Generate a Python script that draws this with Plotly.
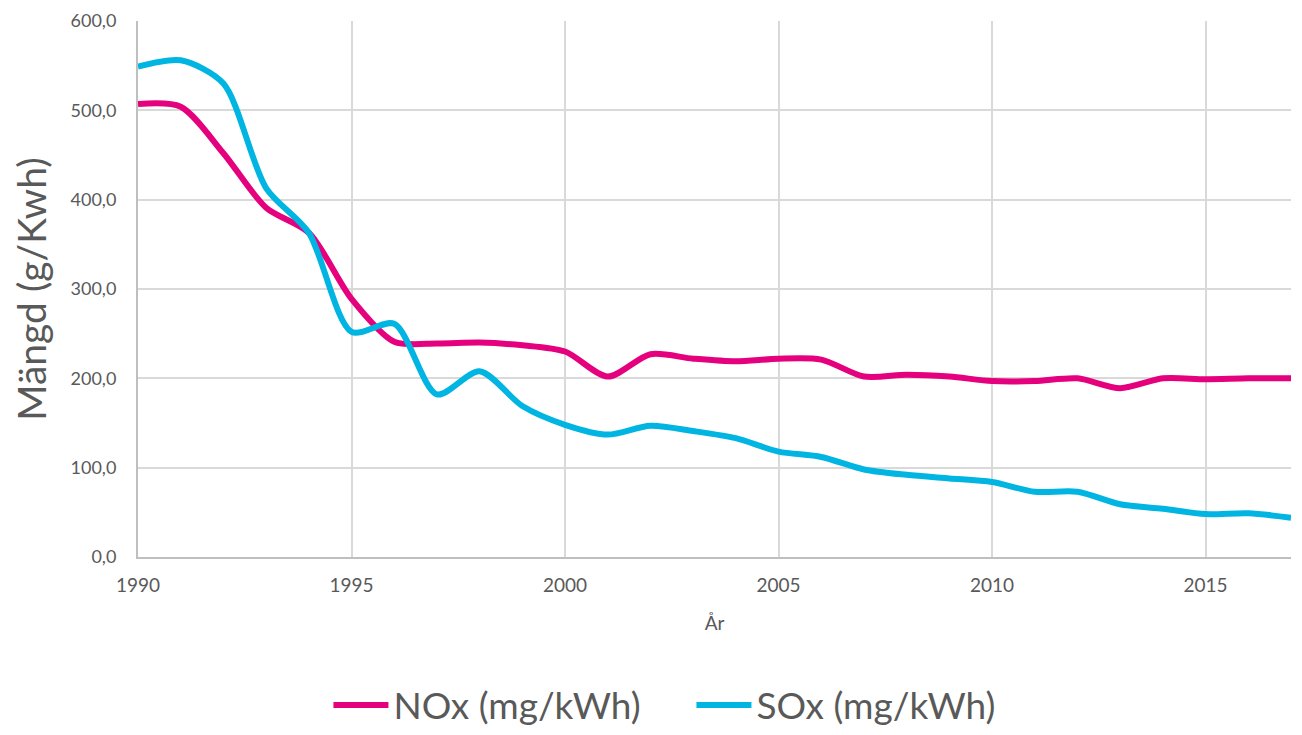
import plotly.graph_objects as go

years = list(range(1990, 2018))
nox = [507, 504, 452, 391, 363, 289, 241, 239, 240, 237, 230, 202, 227, 222, 219, 222, 221, 202, 204, 202, 197, 197, 200, 189, 200, 199, 200, 200]
sox = [549, 556, 530, 413, 363, 252, 261, 182, 208, 169, 148, 137, 147, 141, 133, 118, 112, 98, 92, 88, 84, 73, 73, 59, 54, 48, 49, 44]

fig = go.Figure()
fig.add_trace(go.Scatter(x=years, y=nox, name="NOx (mg/kWh)", mode="lines",
                         line=dict(color="#E5007E", width=6, shape="spline", smoothing=0.8)))
fig.add_trace(go.Scatter(x=years, y=sox, name="SOx (mg/kWh)", mode="lines",
                         line=dict(color="#00B5E2", width=6, shape="spline", smoothing=0.8)))

font_family = "Lato, Open Sans, sans-serif"
fig.update_layout(
    width=1302, height=735,
    margin=dict(l=130, r=19, t=13, b=186, autoexpand=False),
    plot_bgcolor="white", paper_bgcolor="white",
    separators=",.",
    font=dict(family=font_family, color="#595959"),
    showlegend=True,
    legend=dict(orientation="h", x=0.48, xanchor="center", y=-0.277, yanchor="middle",
                font=dict(size=37, color="#595959"), itemwidth=55, tracegroupgap=0,
                entrywidth=293, entrywidthmode="pixels"),
    xaxis=dict(range=[1990, 2017], tickvals=[1990, 1995, 2000, 2005, 2010, 2015],
               showgrid=True, gridcolor="#D9D9D9", gridwidth=2,
               showline=True, linecolor="#BFBFBF", linewidth=2,
               ticks="", tickfont=dict(size=19, color="#595959"), ticklabelstandoff=10,
               title=dict(text="År", font=dict(size=19, color="#595959"), standoff=22),
               zeroline=False, automargin=False, ticklabeloverflow="allow"),
    yaxis=dict(range=[0, 600], tickvals=[0, 100, 200, 300, 400, 500, 600], tickformat=".1f",
               showgrid=True, gridcolor="#D9D9D9", gridwidth=2,
               showline=True, linecolor="#BFBFBF", linewidth=2,
               ticks="", tickfont=dict(size=18, color="#595959"), ticklabelstandoff=16,
               title=dict(text="Mängd (g/Kwh)", font=dict(size=39, color="#595959"), standoff=22),
               zeroline=False, automargin=False, ticklabeloverflow="allow"),
)

fig.write_html("out.html")
